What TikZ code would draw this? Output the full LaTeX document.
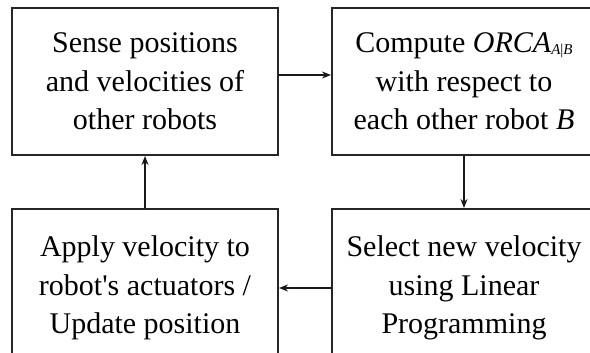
\documentclass[tikz,border=0pt]{standalone}
\usepackage{fontspec}
\setmainfont{Liberation Serif}
\usetikzlibrary{arrows.meta}
\begin{document}
\begin{tikzpicture}[x=1pt,y=-1pt,
  stepbox/.style={draw=black!85,line width=2pt,align=center,inner sep=0pt,
    font=\fontsize{30}{38.5}\selectfont},
  flow/.style={line width=2pt,draw=black!90,-{Stealth[length=9pt,width=7pt]}}]
\clip (0,0) rectangle (590,353);
\fill[white] (0,0) rectangle (590,353);
\node[stepbox,minimum width=266pt,minimum height=147pt] (s) at (145,81.5)
  {Sense positions\\and velocities of\\other robots};
\node[stepbox,minimum width=264pt,minimum height=147pt] (c) at (464,81.5)
  {Compute \textit{ORCA}{\fontsize{15}{15}\selectfont\raisebox{-2pt}{\textit{A}|\textit{B}}}\\with respect to\\each other robot \textit{B}};
\node[stepbox,minimum width=264pt,minimum height=158pt] (l) at (464,288)
  {Select new velocity\\using Linear\\Programming};
\node[stepbox,minimum width=266pt,minimum height=158pt] (a) at (145,288)
  {Apply velocity to\\robot\textquotesingle s actuators /\\Update position};
\draw[flow] ([yshift=6.5pt]s.east) -- ([yshift=6.5pt]c.west);
\draw[flow] (c.south) -- (l.north);
\draw[flow] (l.west) -- (a.east);
\draw[flow] (a.north) -- (s.south);
\end{tikzpicture}
\end{document}
